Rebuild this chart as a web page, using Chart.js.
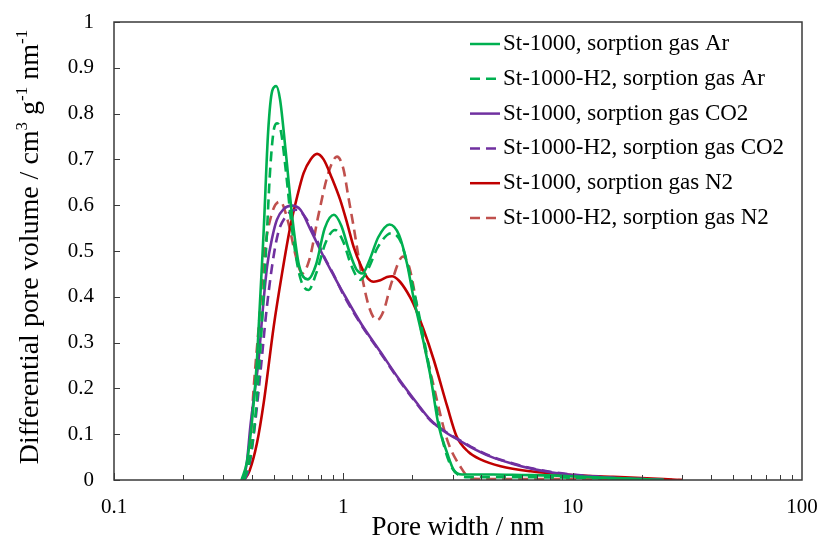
<!DOCTYPE html>
<html lang="en">
<head>
<meta charset="UTF-8">
<title>Pore size distribution</title>
<script src="https://cdn.jsdelivr.net/npm/chart.js"></script>
<style>
  body { margin: 0; background: #ffffff; }
  #wrap { width: 819px; height: 541px; }
</style>
</head>
<body>
<div id="wrap"><canvas id="psd" width="819" height="541"></canvas></div>
<script>
// pore width (nm) and differential pore volume (cm3 g-1 nm-1) per curve
const widthsArSt = [0.36, 0.38, 0.40, 0.42, 0.45, 0.47, 0.49, 0.51, 0.53, 0.56, 0.60, 0.64, 0.70, 0.76, 0.83, 0.91, 0.98, 1.06, 1.14, 1.21, 1.30, 1.42, 1.59, 1.75, 1.90, 2.02, 2.24, 2.40, 2.60, 2.84, 3.03, 3.30, 4.5, 6, 8, 10, 15, 20, 25];
const dvArSt = [0, 0.04, 0.13, 0.26, 0.55, 0.76, 0.85, 0.86, 0.83, 0.72, 0.57, 0.47, 0.438, 0.47, 0.55, 0.579, 0.555, 0.50, 0.46, 0.451, 0.48, 0.53, 0.558, 0.535, 0.47, 0.40, 0.30, 0.226, 0.12, 0.058, 0.022, 0.012, 0.012, 0.011, 0.01, 0.008, 0.004, 0.002, 0];

const widthsArH2 = [0.37, 0.39, 0.41, 0.43, 0.46, 0.48, 0.50, 0.515, 0.535, 0.56, 0.60, 0.65, 0.706, 0.76, 0.84, 0.92, 1.00, 1.08, 1.186, 1.28, 1.42, 1.62, 1.78, 1.95, 2.10, 2.30, 2.48, 2.70, 2.95, 3.2, 3.5, 6, 10, 15, 20, 25];
const dvArH2 = [0, 0.04, 0.12, 0.25, 0.50, 0.68, 0.77, 0.779, 0.76, 0.68, 0.54, 0.44, 0.415, 0.45, 0.52, 0.546, 0.52, 0.47, 0.437, 0.46, 0.51, 0.539, 0.52, 0.45, 0.38, 0.28, 0.19, 0.09, 0.03, 0.01, 0.006, 0.006, 0.005, 0.003, 0.001, 0];

const widthsCo2St = [0.36, 0.37, 0.38, 0.393, 0.41, 0.427, 0.445, 0.465, 0.49, 0.513, 0.55, 0.597, 0.65, 0.72, 0.82, 0.90, 1.0, 1.2, 1.45, 1.75, 2.10, 2.40, 2.74, 3.24, 3.59, 4.39, 5.5, 6.55, 8, 10, 13, 16, 20, 25];
const dvCo2St = [0, 0.01, 0.04, 0.116, 0.19, 0.262, 0.37, 0.466, 0.53, 0.568, 0.592, 0.599, 0.59, 0.546, 0.488, 0.45, 0.408, 0.34, 0.28, 0.22, 0.167, 0.131, 0.107, 0.085, 0.072, 0.051, 0.035, 0.025, 0.017, 0.011, 0.007, 0.004, 0.002, 0];

const widthsCo2H2 = [0.37, 0.385, 0.40, 0.42, 0.44, 0.46, 0.49, 0.52, 0.56, 0.60, 0.628, 0.68, 0.75, 0.82, 0.90, 1.0, 1.2, 1.45, 1.75, 2.10, 2.40, 2.74, 3.24, 3.59, 4.39, 5.5, 6.55, 8, 10, 13, 16, 20, 25];
const dvCo2H2 = [0, 0.02, 0.07, 0.16, 0.26, 0.36, 0.47, 0.54, 0.575, 0.588, 0.59, 0.575, 0.535, 0.49, 0.452, 0.405, 0.338, 0.278, 0.218, 0.165, 0.130, 0.108, 0.086, 0.073, 0.052, 0.036, 0.026, 0.018, 0.012, 0.007, 0.004, 0.002, 0];

const widthsN2St = [0.37, 0.39, 0.42, 0.45, 0.497, 0.54, 0.587, 0.63, 0.671, 0.72, 0.768, 0.82, 0.89, 0.97, 1.04, 1.109, 1.20, 1.28, 1.356, 1.45, 1.55, 1.631, 1.75, 1.90, 2.02, 2.24, 2.48, 2.84, 3.12, 3.5, 3.96, 4.85, 6.55, 10, 15, 20, 25, 30];
const dvN2St = [0, 0.02, 0.08, 0.17, 0.335, 0.45, 0.553, 0.62, 0.67, 0.70, 0.712, 0.70, 0.66, 0.611, 0.56, 0.509, 0.465, 0.44, 0.433, 0.436, 0.443, 0.445, 0.435, 0.41, 0.385, 0.328, 0.262, 0.16, 0.095, 0.062, 0.045, 0.03, 0.019, 0.011, 0.007, 0.004, 0.002, 0];

const widthsN2H2 = [0.37, 0.39, 0.405, 0.43, 0.449, 0.488, 0.531, 0.57, 0.62, 0.66, 0.71, 0.78, 0.86, 0.938, 1.0, 1.05, 1.109, 1.2, 1.30, 1.403, 1.50, 1.62, 1.822, 1.95, 2.17, 2.48, 2.84, 3.24, 3.6, 4, 10, 20, 30];
const dvN2H2 = [0, 0.05, 0.189, 0.35, 0.48, 0.582, 0.608, 0.57, 0.49, 0.451, 0.48, 0.58, 0.67, 0.706, 0.68, 0.62, 0.553, 0.45, 0.375, 0.349, 0.37, 0.43, 0.488, 0.46, 0.335, 0.204, 0.087, 0.029, 0.003, 0.002, 0.002, 0.001, 0];

const seriesLabels = [
  'St-1000, sorption gas Ar',
  'St-1000-H2, sorption gas Ar',
  'St-1000, sorption gas CO2',
  'St-1000-H2, sorption gas CO2',
  'St-1000, sorption gas N2',
  'St-1000-H2, sorption gas N2'
];
const xTickValues = [0.1, 1, 10, 100];
const xTickLabels = ['0.1', '1', '10', '100'];

const SERIF = '"Liberation Serif", "Times New Roman", serif';
const DASH = [10, 6];

function pts(w, v) {
  return w.map((x, i) => ({ x: x, y: v[i] }));
}

function series(i, w, v, color, dashed) {
  return {
    label: seriesLabels[i],
    data: pts(w, v),
    borderColor: color,
    borderDash: dashed ? DASH : [],
    borderWidth: 2.6,
    pointRadius: 0,
    fill: false,
    cubicInterpolationMode: 'monotone'
  };
}

// frame, inward tick marks, rotated y title with superscripts, legend
const decorations = {
  id: 'decorations',
  afterDraw(chart) {
    const { ctx, chartArea: a, scales: { x, y } } = chart;
    ctx.save();

    ctx.strokeStyle = '#3a3a3a';
    ctx.lineWidth = 1;
    ctx.beginPath();
    y.ticks.forEach(t => {
      const py = Math.round(y.getPixelForValue(t.value)) + 0.5;
      ctx.moveTo(a.left, py);
      ctx.lineTo(a.left + 6, py);
    });
    for (let d = -1; d < 2; d++) {
      for (let m = 1; m < 10; m++) {
        const px = Math.round(x.getPixelForValue(m * Math.pow(10, d))) + 0.5;
        ctx.moveTo(px, a.bottom);
        ctx.lineTo(px, a.bottom - (m === 1 ? 7 : 5));
      }
    }
    ctx.stroke();

    ctx.lineWidth = 1.5;
    ctx.strokeRect(a.left, a.top, a.right - a.left, a.bottom - a.top);

    // y axis title
    const runs = [
      ['Differential pore volume / cm', false],
      ['3', true],
      [' g', false],
      ['-1', true],
      [' nm', false],
      ['-1', true]
    ];
    const big = '28px ' + SERIF, small = '17px ' + SERIF;
    let total = 0;
    runs.forEach(r => { ctx.font = r[1] ? small : big; total += ctx.measureText(r[0]).width; });
    ctx.translate(31, 247);
    ctx.rotate(-Math.PI / 2);
    ctx.fillStyle = '#000';
    ctx.textBaseline = 'middle';
    ctx.textAlign = 'left';
    let cx = -total / 2;
    runs.forEach(r => {
      ctx.font = r[1] ? small : big;
      ctx.fillText(r[0], cx, r[1] ? -8 : 0);
      cx += ctx.measureText(r[0]).width;
    });
    ctx.setTransform(1, 0, 0, 1, 0, 0);

    // legend
    ctx.font = '23px ' + SERIF;
    ctx.textBaseline = 'middle';
    chart.data.datasets.forEach((ds, i) => {
      const ly = 44 + i * 34.8;
      ctx.strokeStyle = ds.borderColor;
      ctx.lineWidth = 2.5;
      ctx.setLineDash(ds.borderDash);
      ctx.beginPath();
      ctx.moveTo(470, ly);
      ctx.lineTo(500, ly);
      ctx.stroke();
      ctx.setLineDash([]);
      ctx.fillStyle = '#000';
      ctx.fillText(ds.label, 503, ly);
    });

    ctx.restore();
  }
};

new Chart(document.getElementById('psd'), {
  type: 'line',
  data: {
    datasets: [
      series(0, widthsArSt, dvArSt, '#00b050', false),
      series(1, widthsArH2, dvArH2, '#00b050', true),
      series(2, widthsCo2St, dvCo2St, '#7030a0', false),
      series(3, widthsCo2H2, dvCo2H2, '#7030a0', true),
      series(4, widthsN2St, dvN2St, '#c00000', false),
      series(5, widthsN2H2, dvN2H2, '#c0504d', true)
    ]
  },
  options: {
    responsive: false,
    animation: false,
    layout: { padding: { top: 22, right: 17, left: 0, bottom: 0 } },
    plugins: { legend: { display: false }, tooltip: { enabled: false } },
    scales: {
      x: {
        type: 'logarithmic',
        min: 0.1,
        max: 100,
        afterBuildTicks: s => { s.ticks = xTickValues.map(v => ({ value: v })); },
        afterFit: s => { s.height = 61; s.paddingLeft = 0; s.paddingRight = 0; },
        grid: { display: false, drawTicks: false },
        border: { display: false },
        ticks: {
          autoSkip: false,
          maxRotation: 0,
          padding: 15,
          color: '#000',
          font: { family: SERIF, size: 21 },
          callback: (v, i) => xTickLabels[i]
        },
        title: {
          display: true,
          text: 'Pore width / nm',
          color: '#000',
          font: { family: SERIF, size: 27, lineHeight: 1.0 },
          padding: { top: 0, bottom: 0 }
        }
      },
      y: {
        min: 0,
        max: 1,
        afterFit: s => { s.width = 114; s.paddingTop = 0; s.paddingBottom = 0; },
        grid: { display: false, drawTicks: false },
        border: { display: false },
        ticks: {
          stepSize: 0.1,
          padding: 20,
          color: '#000',
          font: { family: SERIF, size: 21 },
          callback: v => String(Number(v.toFixed(1)))
        }
      }
    }
  },
  plugins: [decorations]
});
</script>
</body>
</html>
